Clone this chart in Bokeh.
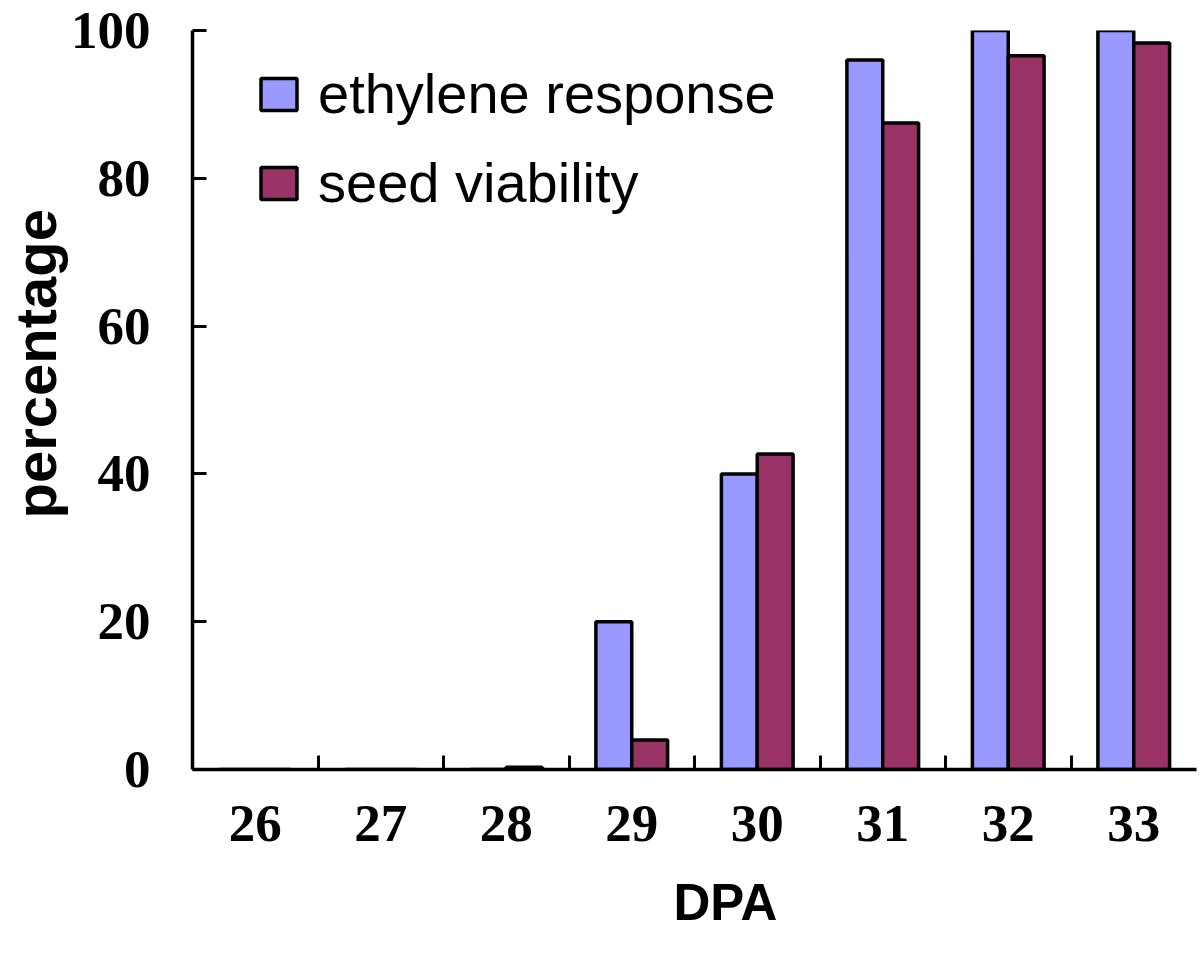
from bokeh.plotting import figure
from bokeh.models import (ColumnDataSource, Range1d, FixedTicker, Legend, LegendItem, Title)
from bokeh.transform import dodge
from bokeh.embed import file_html
from bokeh.resources import INLINE

# ---- data ----
days = [26, 27, 28, 29, 30, 31, 32, 33]
day_labels = ["26", "27", "28", "29", "30", "31", "32", "33"]
ethylene_response = [0, 0, 0, 20, 40, 96, 100, 100]
seed_viability = [0, 0, 0.3, 4, 42.7, 87.5, 96.6, 98.3]
series_names = ["ethylene response", "seed viability"]
y_ticks = [0, 20, 40, 60, 80, 100]

# ---- styles ----
C_ETH = "#9999FF"
C_SEED = "#993366"
BAR_W = 1 / 3.5  # Excel-like gap width 150%

src = ColumnDataSource(dict(day=days, eth=ethylene_response, seed=seed_viability))

p = figure(width=1200, height=962, output_backend="svg", toolbar_location=None,
           x_range=Range1d(days[0] - 0.5, days[-1] + 0.5), y_range=Range1d(0, 100),
           min_border_left=192, min_border_right=4, min_border_top=30, min_border_bottom=192)
p.outline_line_color = None
p.xgrid.visible = False
p.ygrid.visible = False
p.background_fill_color = "white"
p.border_fill_color = "white"

r1 = p.vbar(x=dodge("day", -BAR_W / 2), top="eth", width=BAR_W, source=src,
            fill_color=C_ETH, line_color="black", line_width=3.5)
r2 = p.vbar(x=dodge("day", BAR_W / 2), top="seed", width=BAR_W, source=src,
            fill_color=C_SEED, line_color="black", line_width=3.5)

# x axis: labels at centers, inward ticks at category boundaries
xa = p.xaxis[0]
xa.ticker = FixedTicker(ticks=days, minor_ticks=[d + 0.5 for d in days[:-1]])
xa.major_label_overrides = {d: s for d, s in zip(days, day_labels)}
xa.major_tick_line_color = None
xa.minor_tick_in = 14
xa.minor_tick_out = 0
xa.minor_tick_line_width = 3
xa.minor_tick_line_color = "black"
xa.axis_line_width = 3.5
xa.axis_line_color = "black"
xa.major_label_text_font = "Liberation Serif"
xa.major_label_text_font_style = "bold"
xa.major_label_text_font_size = "53px"
xa.major_label_text_color = "black"
xa.major_label_standoff = 30

ya = p.yaxis[0]
ya.ticker = FixedTicker(ticks=y_ticks, minor_ticks=[])
ya.major_tick_in = 14
ya.major_tick_out = 0
ya.major_tick_line_width = 3
ya.major_tick_line_color = "black"
ya.minor_tick_line_color = None
ya.axis_line_width = 3.5
ya.axis_line_color = "black"
ya.major_label_text_font = "Liberation Serif"
ya.major_label_text_font_style = "bold"
ya.major_label_text_font_size = "53px"
ya.major_label_text_color = "black"
ya.major_label_standoff = 42

# axis titles as side titles (offset along the frame)
p.add_layout(Title(text="percentage", align="left", offset=251, standoff=0,
                   text_font="Liberation Sans", text_font_style="bold",
                   text_font_size="58px", text_color="black"), "left")
p.add_layout(Title(text="DPA", align="left", offset=481, standoff=60, vertical_align="top",
                   text_font="Liberation Sans", text_font_style="bold",
                   text_font_size="51px", text_color="black"), "below")

legend = Legend(items=[LegendItem(label=series_names[0], renderers=[r1]),
                       LegendItem(label=series_names[1], renderers=[r2])],
                location=(64, 554), orientation="vertical",
                glyph_width=45, glyph_height=40, label_height=64, spacing=24,
                label_standoff=17, padding=0, margin=0,
                border_line_color=None, background_fill_alpha=0,
                label_text_font="Liberation Sans", label_text_font_size="56px",
                label_text_color="black")
p.add_layout(legend)

open("out.html", "w").write(file_html(p, INLINE))
